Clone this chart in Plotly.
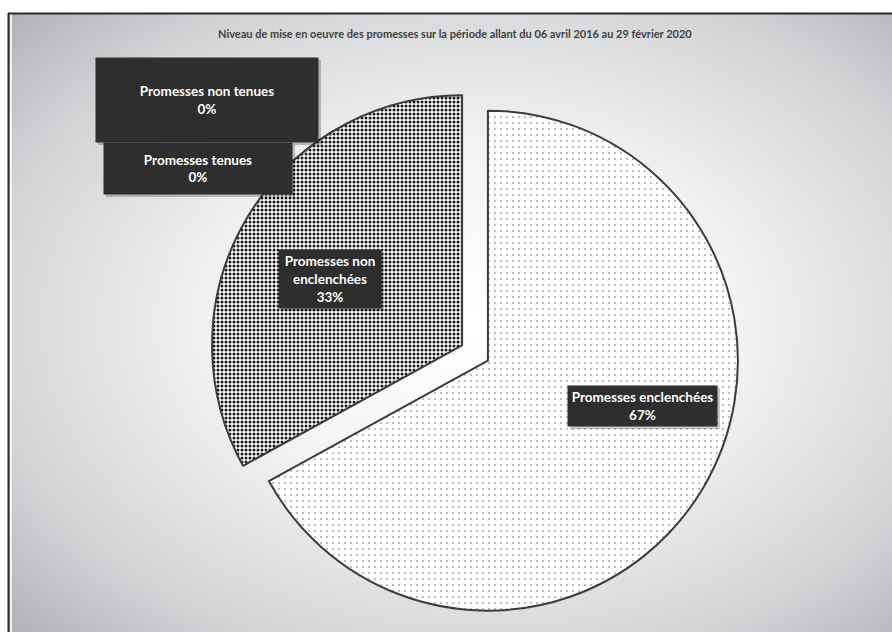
import base64
import plotly.graph_objects as go

# ---- data ----
title_text = "Niveau de mise en oeuvre des promesses sur la période allant du 06 avril 2016 au 29 février 2020"
labels = ["Promesses enclenchées", "Promesses non enclenchées", "Promesses tenues", "Promesses non tenues"]
values = [67, 33, 0, 0]
# label text as displayed (line breaks as in the reference)
label_display = ["Promesses enclenchées", "Promesses non<br>enclenchées", "Promesses tenues", "Promesses non tenues"]

W, H = 892, 632
total = sum(values)
pcts = [round(v / total * 100) for v in values]

# ---- styles ----
fills = dict(
    fgcolor=["#6a6a6a", "#151515", "#151515", "#151515"],
    bgcolor=["#ffffff", "#ffffff", "#ffffff", "#ffffff"],
    shape=[".", ".", ".", "."],
    size=[6, 4, 4, 4],
    solidity=[0.06, 0.45, 0.45, 0.45],
    fillmode="replace",
)
line_widths = [2 if v > 0 else 0 for v in values]

def px(x):
    return x / W

def py(y):
    return 1 - y / H

fig = go.Figure()
fig.add_trace(go.Pie(
    labels=labels,
    values=values,
    sort=False,
    direction="clockwise",
    rotation=0,
    pull=[0.06, 0.06, 0.06, 0.06],
    textinfo="none",
    hoverinfo="label+percent",
    showlegend=False,
    marker=dict(pattern=fills, line=dict(color="#3c3c3c", width=line_widths)),
    domain=dict(x=[px(210), px(740)], y=[py(618), py(88)]),
))

# background radial gradient (chart area style)
svg = (
    "<svg xmlns='http://www.w3.org/2000/svg' width='884' height='619' viewBox='0 0 884 619' preserveAspectRatio='none'>"
    "<defs><radialGradient id='g' cx='0.53' cy='0.5' r='0.72'>"
    "<stop offset='0' stop-color='#ffffff'/>"
    "<stop offset='0.4' stop-color='#f3f3f3'/>"
    "<stop offset='0.78' stop-color='#d2d3d5'/>"
    "<stop offset='1' stop-color='#b2b3b8'/>"
    "</radialGradient></defs>"
    "<rect width='884' height='619' fill='url(#g)'/></svg>"
)
src = "data:image/svg+xml;base64," + base64.b64encode(svg.encode()).decode()

fig.add_layout_image(dict(
    source=src, xref="paper", yref="paper",
    x=px(8), y=py(13), sizex=1 - px(8), sizey=py(13),
    xanchor="left", yanchor="top", sizing="stretch", layer="below",
))

shapes = [
    dict(type="line", xref="paper", yref="paper", x0=px(8), x1=1, y0=py(13.5), y1=py(13.5),
         line=dict(color="#2a2a2a", width=2)),
    dict(type="line", xref="paper", yref="paper", x0=px(8.5), x1=px(8.5), y0=0, y1=py(13),
         line=dict(color="#2a2a2a", width=2)),
    dict(type="line", xref="paper", yref="paper", x0=px(11), x1=px(11), y0=0, y1=py(14.5),
         line=dict(color="#ffffff", width=1.5)),
]

# label boxes: (center x, center y, width, height) in pixels
boxes = [
    (642.5, 406, 149, 40),
    (330, 279, 102, 58),
    (198, 168.5, 188, 51),
    (207, 100, 222, 84),
]
annotations = [
    dict(text="<b>%s</b>" % title_text, xref="paper", yref="paper", x=px(455), y=py(33),
         showarrow=False, font=dict(family="Lato", size=11, color="#404040"),
         xanchor="center", yanchor="middle"),
]
for i, (cx, cy, bw, bh) in enumerate(boxes):
    # shadow
    shapes.append(dict(type="rect", xref="paper", yref="paper",
                       x0=px(cx - bw / 2 + 2), x1=px(cx + bw / 2 + 3),
                       y0=py(cy + bh / 2 + 3), y1=py(cy - bh / 2 + 2),
                       fillcolor="rgba(0,0,0,0.22)", line=dict(width=0), layer="above"))
    annotations.append(dict(
        text="<b>%s<br>%d%%</b>" % (label_display[i], pcts[i]),
        xref="paper", yref="paper", x=px(cx), y=py(cy),
        xanchor="center", yanchor="middle", showarrow=False,
        width=bw, height=bh, borderpad=0, bgcolor="#2e2e2e",
        font=dict(family="Lato", size=13.5, color="#ffffff"),
        align="center", valign="middle",
    ))

fig.update_layout(
    width=W, height=H,
    margin=dict(l=0, r=0, t=0, b=0),
    paper_bgcolor="#ffffff",
    plot_bgcolor="rgba(0,0,0,0)",
    shapes=shapes,
    annotations=annotations,
)

fig.write_html("out.html")
